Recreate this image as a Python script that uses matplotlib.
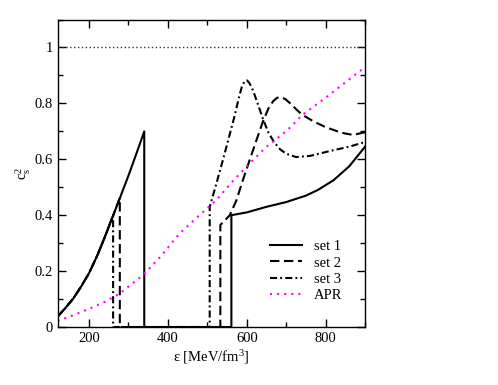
import matplotlib
matplotlib.use("Agg")
import matplotlib.pyplot as plt
from matplotlib.ticker import MultipleLocator, FixedLocator, FixedFormatter

# set 1 (solid)
x_set1 = [120, 140, 160, 180, 200, 220, 240, 260, 280, 300, 320, 340, 340,
          561, 561, 600, 650, 700, 750, 780, 820, 860, 900]
y_set1 = [0.037, 0.068, 0.102, 0.145, 0.193, 0.253, 0.322, 0.395, 0.468, 0.542, 0.62, 0.70, 0.0,
          0.0, 0.40, 0.41, 0.43, 0.447, 0.47, 0.49, 0.525, 0.575, 0.645]

# set 2 (dashed)
x_set2 = [120, 140, 160, 180, 200, 220, 240, 260, 278, 278,
          533, 533, 557, 574, 590, 607, 625, 641, 655, 667, 677, 687, 698, 712, 726, 740,
          770, 800, 840, 870, 900]
y_set2 = [0.037, 0.068, 0.102, 0.145, 0.193, 0.253, 0.322, 0.395, 0.462, 0.0,
          0.0, 0.365, 0.40, 0.454, 0.525, 0.596, 0.67, 0.735, 0.782, 0.808, 0.82, 0.822, 0.815, 0.798, 0.778, 0.76,
          0.735, 0.715, 0.695, 0.687, 0.697]

# set 3 (dash-dot)
x_set3 = [120, 140, 160, 180, 200, 220, 240, 261, 261,
          506, 506, 523, 540, 557, 570, 580, 588, 595, 601, 607, 616, 630, 641, 655, 670,
          685, 700, 725, 760, 818, 860, 900]
y_set3 = [0.037, 0.068, 0.102, 0.145, 0.193, 0.253, 0.322, 0.40, 0.0,
          0.0, 0.43, 0.513, 0.60, 0.69, 0.76, 0.82, 0.862, 0.88, 0.882, 0.872, 0.846, 0.79, 0.745, 0.695, 0.66,
          0.635, 0.62, 0.608, 0.612, 0.632, 0.645, 0.662]

# APR (magenta dotted)
x_apr = [120, 160, 200, 240, 278, 337, 380, 430, 480, 523, 560, 607, 650, 700, 742, 800, 850, 900]
y_apr = [0.022, 0.042, 0.065, 0.09, 0.12, 0.186, 0.25, 0.335, 0.40, 0.454, 0.515, 0.585, 0.645, 0.70,
         0.76, 0.82, 0.875, 0.93]

# causal limit
x_limit = [120, 900]
y_limit = [1.0, 1.0]

y_ticks = [0, 0.2, 0.4, 0.6, 0.8, 1.0]
y_labels = ["0", "0.2", "0.4", "0.6", "0.8", "1"]
x_ticks = [200, 400, 600, 800]


def main():
    plt.rcParams["font.family"] = ["Liberation Serif", "DejaVu Serif"]
    plt.rcParams["mathtext.fontset"] = "custom"
    plt.rcParams["mathtext.rm"] = "Liberation Serif"
    plt.rcParams["mathtext.it"] = "Liberation Serif:italic"

    fig = plt.figure(figsize=(4.98, 3.85), dpi=100)
    ax = fig.add_axes([0.1155, 0.1506, 0.6175, 0.7987])

    lw = 1.5
    ax.plot(x_limit, y_limit, color="#333333", lw=1.0, dashes=(1, 1.8))
    ax.plot(x_set1, y_set1, color="black", lw=lw, label="set 1")
    ax.plot(x_set2, y_set2, color="black", lw=lw, dashes=(4.5, 2.2), label="set 2")
    ax.plot(x_set3, y_set3, color="black", lw=lw, dashes=(3.4, 1.5, 0.9, 1.5), label="set 3")
    ax.plot(x_apr, y_apr, color="#ff00ff", lw=lw, dashes=(1, 2.4), label="APR")

    ax.set_xlim(120, 900)
    ax.set_ylim(0, 1.1)
    ax.xaxis.set_major_locator(FixedLocator(x_ticks))
    ax.xaxis.set_minor_locator(MultipleLocator(100))
    ax.yaxis.set_major_locator(FixedLocator(y_ticks))
    ax.yaxis.set_major_formatter(FixedFormatter(y_labels))
    ax.yaxis.set_minor_locator(MultipleLocator(0.1))
    ax.tick_params(which="both", direction="in", top=True, right=True,
                   labelsize=10.5, width=1.0)
    ax.tick_params(which="major", length=6)
    ax.tick_params(which="minor", length=3.5)
    for s in ax.spines.values():
        s.set_linewidth(1.0)

    ax.set_xlabel("ε [MeV/fm$^3$]", fontsize=10.5, va="top")
    ax.xaxis.set_label_coords(0.5, -0.068)
    ax.set_ylabel(r"c$_\mathrm{s}^\mathrm{2}$", fontsize=10.5)
    ax.yaxis.set_label_coords(-0.08, 0.5)

    ax.legend(loc="center left", bbox_to_anchor=(0.691, 0.182), frameon=False,
              fontsize=10.5, handlelength=2.2, handletextpad=0.8, labelspacing=0.2,
              borderpad=0, borderaxespad=0)

    fig.savefig("out.png", dpi=100)


if __name__ == "__main__":
    main()
